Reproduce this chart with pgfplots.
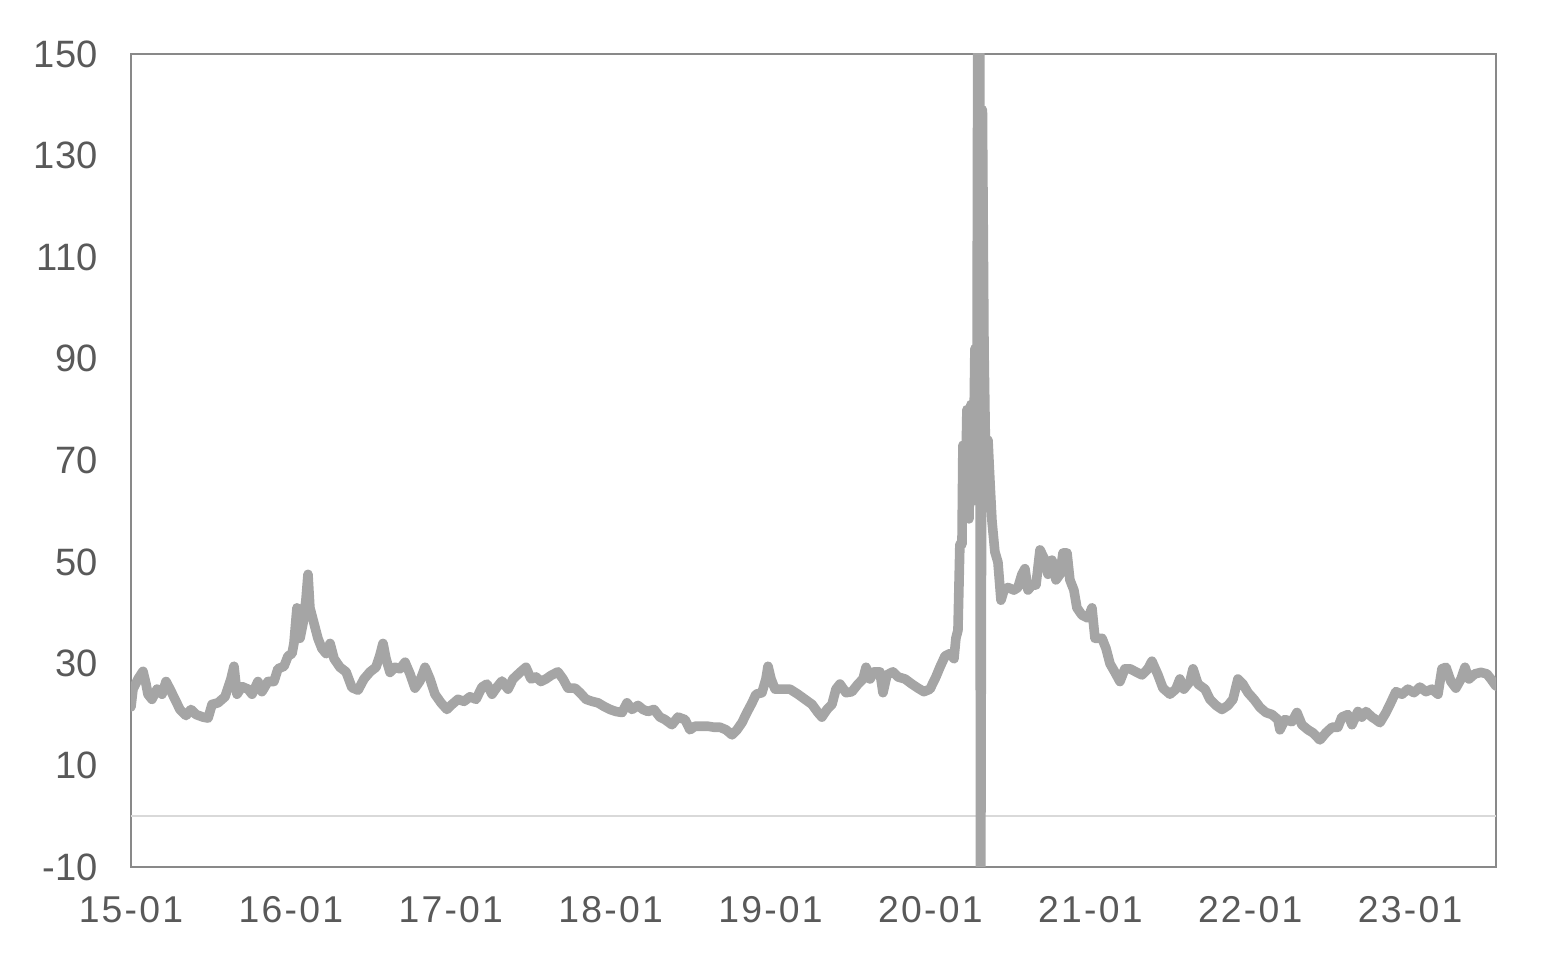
\documentclass[border=0pt]{standalone}
\usepackage{pgfplots}
\pgfplotsset{compat=1.18}
\usepackage{fontspec}
\setmainfont{Liberation Sans}
\newfontfamily\xfont[LetterSpace=6]{Liberation Sans}
\definecolor{ser}{RGB}{165,165,165}
\definecolor{frame}{RGB}{137,137,137}
\definecolor{tick}{RGB}{89,89,89}
\definecolor{zero}{RGB}{217,217,217}
\begin{document}
\begin{tikzpicture}
\useasboundingbox (-49.125pt,-39pt) rectangle (533.25pt,325.125pt);
\begin{axis}[
  at={(0,0)}, anchor=south west,
  scale only axis, width=511.875pt, height=304.875pt,
  xmin=0, xmax=8.537, ymin=-10, ymax=150,
  xtick={0,1,2,3,4,5,6,7,8},
  xticklabels={15-01,16-01,17-01,18-01,19-01,20-01,21-01,22-01,23-01},
  ytick={-10,10,30,50,70,90,110,130,150},
  major tick length=0pt,
  axis line style={frame, line width=1.1pt},
  tick label style={font=\fontsize{14}{16}\selectfont, text=tick},
  /pgf/number format/assume math mode=true,
  yticklabel style={xshift=-9pt, font=\fontsize{14.3}{16}\selectfont},
  xticklabel style={yshift=-7.6pt, font=\fontsize{14}{16}\selectfont\xfont},
  clip=true,
]
\addplot[zero, line width=0.75pt, forget plot] coordinates {(0,0) (8.537,0)};
\addplot[ser, line width=3.6pt, line join=round, line cap=round] coordinates {
(0,21.5)(0.0125,25)(0.0438,27)(0.075,28.5)(0.094,26)(0.106,24)(0.131,23)(0.163,25)(0.194,24)(0.219,26.5)
(0.244,25)(0.275,23)(0.306,21)(0.344,19.8)(0.375,21)(0.407,20)(0.450,19.5)(0.482,19.3)(0.507,22)(0.544,22.3)
(0.588,23.5)(0.625,27)(0.644,29.5)(0.663,24)(0.694,25.5)(0.732,25)(0.757,24)(0.794,26.5)(0.819,24.5)(0.857,26.5)
(0.894,26.5)(0.919,29)(0.957,29.5)(0.982,31.5)(1.007,32)(1.019,34)(1.038,41)(1.057,35)(1.076,38)(1.094,42.5)
(1.107,47.6)(1.119,41)(1.144,38)(1.169,35)(1.194,33)(1.220,32)(1.245,34)(1.270,31)(1.307,29.3)(1.345,28.4)
(1.382,25.3)(1.420,24.8)(1.457,27)(1.495,28.4)(1.532,29.3)(1.557,31.7)(1.576,34)(1.595,31)(1.620,28.3)(1.651,29.3)
(1.682,29)(1.714,30.3)(1.745,28)(1.776,25.2)(1.807,26.6)(1.839,29.3)(1.870,27)(1.901,24)(1.939,22.3)(1.976,21)
(2.008,22)(2.045,23)(2.083,22.6)(2.120,23.5)(2.158,23)(2.195,25.4)(2.226,26)(2.258,24)(2.289,25.4)(2.320,26.6)
(2.358,25)(2.389,27)(2.433,28.3)(2.470,29.3)(2.502,27)(2.533,27.4)(2.564,26.5)(2.595,27)(2.627,27.7)(2.670,28.4)
(2.702,27)(2.733,25.2)(2.777,25.2)(2.808,24.3)(2.846,23)(2.883,22.6)(2.921,22.3)(2.958,21.6)(2.996,21)(3.033,20.6)
(3.071,20.4)(3.102,22.3)(3.133,21)(3.171,21.8)(3.202,21)(3.233,20.6)(3.271,21)(3.308,19.5)(3.340,19)(3.383,18)
(3.421,19.5)(3.465,19)(3.496,17)(3.527,17.7)(3.559,17.7)(3.608,17.7)(3.646,17.5)(3.684,17.5)(3.721,17)(3.759,16)
(3.790,17)(3.821,18.4)(3.852,20.4)(3.884,22.3)(3.909,24)(3.946,24.3)(3.971,27)(3.984,29.5)(4.003,27)(4.028,25)
(4.071,25)(4.121,25)(4.171,24)(4.215,23)(4.259,22)(4.296,20.4)(4.321,19.5)(4.353,21)(4.384,22)(4.409,25)
(4.434,26)(4.472,24.3)(4.509,24.5)(4.547,26)(4.578,27)(4.597,29.3)(4.622,27)(4.647,28.4)(4.684,28.4)(4.703,24.3)
(4.728,27.8)(4.765,28.4)(4.797,27.4)(4.841,27)(4.884,26)(4.922,25.2)(4.959,24.5)(4.997,25)(5.034,27.4)(5.059,29.3)
(5.091,31.5)(5.122,32)(5.147,31)(5.159,35)(5.172,36.6)(5.184,53.5)(5.197,53.5)(5.203,73)(5.216,58.5)(5.228,80)
(5.241,58.5)(5.253,81)(5.266,62)(5.278,92)(5.291,86)(5.306,300)(5.313,-40)(5.325,139)(5.335,92)(5.347,66)
(5.360,74)(5.372,66)(5.385,58)(5.403,52)(5.422,50)(5.441,42.5)(5.460,44.5)(5.485,45)(5.522,44.5)(5.547,45)
(5.572,47.6)(5.591,48.7)(5.610,44.5)(5.635,45.5)(5.660,45.5)(5.685,52.4)(5.710,50.8)(5.735,47.6)(5.760,50.4)(5.785,46.5)
(5.810,47.6)(5.829,51.8)(5.854,51.8)(5.872,46.5)(5.897,44.5)(5.916,41)(5.947,39.6)(5.985,39)(6.010,41)(6.029,35)
(6.073,35)(6.098,33)(6.123,30)(6.154,28.3)(6.185,26.5)(6.216,29)(6.248,29)(6.285,28.4)(6.323,27.8)(6.360,29)
(6.385,30.5)(6.423,27.8)(6.454,25.2)(6.498,24)(6.535,25)(6.560,27)(6.585,25)(6.623,26.5)(6.642,29)(6.673,26)
(6.717,25)(6.748,23)(6.786,21.8)(6.823,21)(6.861,21.8)(6.892,23)(6.923,27)(6.954,26)(6.986,24.3)(7.023,23)
(7.061,21.4)(7.098,20.4)(7.136,20)(7.173,19)(7.186,17)(7.217,19)(7.261,18.6)(7.292,20.4)(7.323,18)(7.361,17)
(7.392,16.4)(7.436,15)(7.473,16.4)(7.511,17.5)(7.548,17.5)(7.573,19.5)(7.611,20)(7.636,18)(7.673,20.6)(7.698,19.5)
(7.724,20.6)(7.761,19.5)(7.786,19)(7.811,18.4)(7.849,20.4)(7.874,22)(7.911,24.5)(7.949,24)(7.986,25)(8.024,24.3)
(8.061,25.4)(8.099,24.5)(8.136,25)(8.174,24)(8.199,29)(8.224,29.3)(8.255,26.5)(8.286,25.2)(8.318,27)(8.343,29.3)
(8.368,27)(8.405,28)(8.443,28.3)(8.480,28)(8.505,27)(8.537,25.6)
};
\end{axis}
\end{tikzpicture}
\end{document}
